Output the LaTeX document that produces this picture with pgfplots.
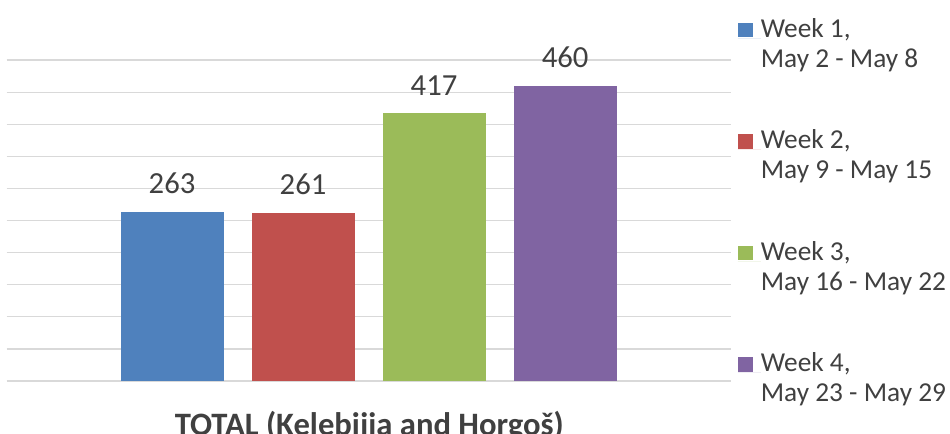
\documentclass[border=0pt]{standalone}
\usepackage{fontspec}
\setmainfont{Carlito}
\usepackage{pgfplots}
\pgfplotsset{compat=1.18}
\definecolor{wkblue}{HTML}{4F81BD}
\definecolor{wkred}{HTML}{C0504D}
\definecolor{wkgreen}{HTML}{9BBB59}
\definecolor{wkpurple}{HTML}{8064A2}
\definecolor{txt}{HTML}{404040}
\definecolor{gridc}{HTML}{D9D9D9}
% two-line legend text with zero height, first baseline on the row origin
\newcommand{\wk}[2]{\smash{\begin{tabular}[t]{@{}l@{}}#1\\#2\end{tabular}}}
\begin{document}
\begin{tikzpicture}[x=0.75pt,y=0.75pt]
\begin{axis}[
    at={(5,82.5)}, anchor=south west,
    width=543pt, height=240.75pt, scale only axis,
    ybar, bar shift=0pt, bar width=0.786,
    xmin=-0.263, xmax=5.263,
    ymin=0, ymax=500,
    ytick={0,50,...,500}, yticklabels={},
    xtick=\empty,
    major tick length=0pt,
    axis line style={draw=none},
    ymajorgrids=true,
    grid style={gridc, line width=0.9pt},
    /pgf/number format/assume math mode=true,
    nodes near coords,
    every node near coord/.append style={font=\fontsize{23}{27}\selectfont, text=txt, inner sep=0pt, anchor=south, yshift=13.5pt},
    xlabel={TOTAL (Kelebijia and Horgoš)},
    xlabel style={font=\fontsize{24.5}{28}\selectfont\bfseries, text=txt, at={(axis description cs:0.501,0)}, anchor=base, yshift=-40.5pt},
    legend cell align=left,
    legend style={at={(axis description cs:1,1)}, anchor=north west, xshift=5.25pt, yshift=17.25pt,
        draw=none, fill=none, inner sep=0pt, row sep=82.1pt,
        font=\fontsize{20.5}{22.5}\selectfont, text=txt,
        nodes={inner sep=0pt}},
    legend image code/.code={
        \fill[#1, draw=none, overlay] (0pt,0.75pt) rectangle (11.25pt,11.6pt);
        \path (0pt,0pt) -- (17.25pt,0pt);
    },
]
\addplot[fill=wkblue, draw=none] coordinates {(1,263)};
\addlegendentry{\wk{Week 1,}{May 2 - May 8}}
\addplot[fill=wkred, draw=none] coordinates {(2,261)};
\addlegendentry{\wk{Week 2,}{May 9 - May 15}}
\addplot[fill=wkgreen, draw=none] coordinates {(3,417)};
\addlegendentry{\wk{Week 3,}{May 16 - May 22}}
\addplot[fill=wkpurple, draw=none] coordinates {(4,460)};
\addlegendentry{\wk{Week 4,}{May 23 - May 29}}
\end{axis}
\pgfresetboundingbox
\useasboundingbox (0,0) rectangle (950,434);
\end{tikzpicture}
\end{document}
